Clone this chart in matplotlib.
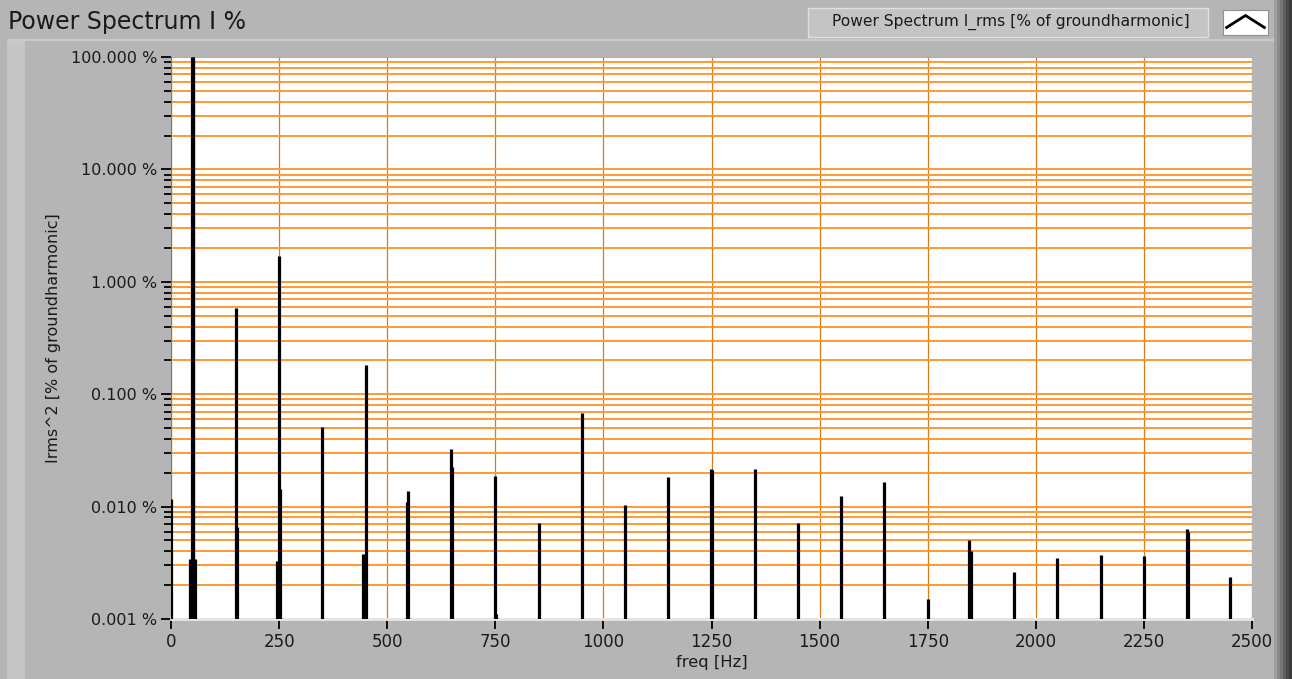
import matplotlib
matplotlib.use("Agg")
import matplotlib.pyplot as plt
from matplotlib.patches import Rectangle
from matplotlib.ticker import FixedLocator, LogLocator, NullFormatter

## data: harmonic spikes, power in % of groundharmonic ##
freq = [0, 44, 49, 50, 51, 56, 150, 152, 246, 249, 252, 350, 445, 450,
        546, 549, 647, 651, 750, 752, 850, 950, 1050, 1150, 1249, 1250,
        1350, 1450, 1550, 1650, 1750, 1846, 1849, 1950, 2050, 2150, 2250,
        2349, 2351, 2450]
level = [0.0116, 0.0034, 100.0, 99.0, 95.0, 0.0034, 0.586, 0.0066, 0.0033,
         1.70, 0.0143, 0.0507, 0.0038, 0.181, 0.0110, 0.0137, 0.0324, 0.0224,
         0.0186, 0.0011, 0.0071, 0.0685, 0.0104, 0.0182, 0.0216, 0.0210,
         0.0216, 0.0071, 0.0123, 0.0166, 0.00151, 0.00507, 0.0040, 0.0026,
         0.0035, 0.00373, 0.0036, 0.00636, 0.0060, 0.00236]
x_ticks = [0, 250, 500, 750, 1000, 1250, 1500, 1750, 2000, 2250, 2500]
y_ticks = [0.001, 0.01, 0.1, 1, 10, 100]
y_labels = ["0.001 %", "0.010 %", "0.100 %", "1.000 %", "10.000 %", "100.000 %"]

W, H = 1292, 679
fig = plt.figure(figsize=(W / 100, H / 100), dpi=100, facecolor="#b5b5b5")

# panel decorations (LabVIEW style frame)
fig.patches.append(Rectangle((7 / W, 0), 18 / W, 1 - 40 / H, transform=fig.transFigure,
                             facecolor="#c6c6c6", edgecolor="none", zorder=0))
fig.patches.append(Rectangle((7 / W, 1 - 41 / H), 1268 / W, 2 / H, transform=fig.transFigure,
                             facecolor="#cacaca", edgecolor="none", zorder=0))
for i, c in enumerate(["#a0a0a0", "#8a8a8a", "#747474", "#5e5e5e", "#4a4a4a", "#3a3a3a"]):
    fig.patches.append(Rectangle(((1274 + i * 3) / W, 0), 3 / W, 1, transform=fig.transFigure,
                                 facecolor=c, edgecolor="none", zorder=0))

fig.text(8 / W, 1 - 22 / H, "Power Spectrum I %", fontsize=17, color="#1a1a1a",
         va="center", ha="left")

# legend box
fig.patches.append(Rectangle((808 / W, 1 - 37 / H), 400 / W, 29 / H, transform=fig.transFigure,
                             facecolor="#c4c4c4", edgecolor="#e0e0e0", linewidth=1, zorder=1))
fig.text(832 / W, 1 - 22 / H, "Power Spectrum I_rms [% of groundharmonic]", fontsize=11.2,
         color="#1a1a1a", va="center", ha="left")
icon = fig.add_axes([1223 / W, 1 - 35 / H, 45 / W, 25 / H])
icon.set_facecolor("white")
icon.plot([0.08, 0.5, 0.92], [0.3, 0.78, 0.3], color="black", lw=2)
icon.set_xlim(0, 1)
icon.set_ylim(0, 1)
icon.set_xticks([])
icon.set_yticks([])
for s in icon.spines.values():
    s.set_color("#909090")

## main plot ##
ax = fig.add_axes([171 / W, 60 / H, 1081 / W, 562 / H])
ax.set_facecolor("white")
ax.set_yscale("log")
ax.set_xlim(0, 2500)
ax.set_ylim(0.001, 100)

ax.vlines(freq, 1e-5, level, colors="black", linewidth=2.3, zorder=3)

ax.xaxis.set_major_locator(FixedLocator(x_ticks))
ax.yaxis.set_major_locator(FixedLocator(y_ticks))
ax.yaxis.set_minor_locator(LogLocator(base=10, subs=range(2, 10), numticks=20))
ax.yaxis.set_minor_formatter(NullFormatter())
ax.set_yticklabels(y_labels)

ax.grid(True, which="major", axis="x", color="#d97c1c", linewidth=0.9, zorder=1)
ax.grid(True, which="both", axis="y", color="#ff9a33", linewidth=1.4, zorder=1)
ax.set_axisbelow(True)

ax.tick_params(axis="y", which="major", length=7, width=1.3, color="black",
               labelsize=11.5, labelcolor="#1a1a1a", pad=3)
ax.tick_params(axis="y", which="minor", length=5, width=1.3, color="black")
ax.tick_params(axis="x", which="major", length=7, width=1.3, color="black",
               labelsize=12, labelcolor="#1a1a1a", pad=3)

for s in ["top", "right"]:
    ax.spines[s].set_visible(False)
ax.spines["left"].set_color("#777777")
ax.spines["bottom"].set_color("#e8e8e8")
ax.spines["bottom"].set_linewidth(2)

ax.set_xlabel("freq [Hz]", fontsize=11.8, color="#1a1a1a", labelpad=3)
ax.set_ylabel("Irms^2 [% of groundharmonic]", fontsize=11.5, color="#1a1a1a", labelpad=7)

fig.savefig("out.png", dpi=100, facecolor=fig.get_facecolor())
